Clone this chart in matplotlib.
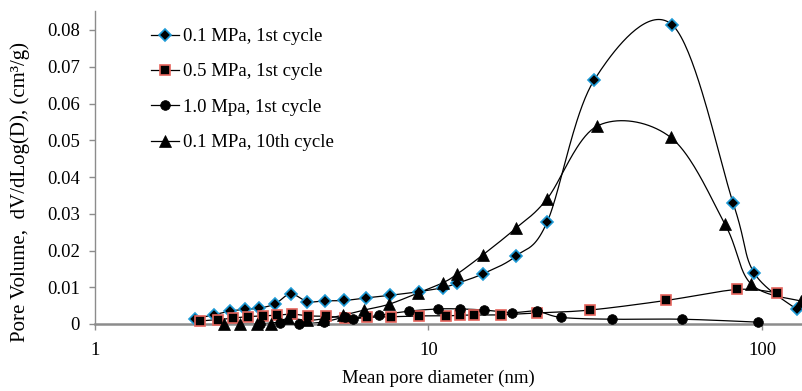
import numpy as np
import matplotlib
matplotlib.use("Agg")
import matplotlib.pyplot as plt
from matplotlib.lines import Line2D

plt.rcParams['font.family'] = ['Liberation Serif', 'DejaVu Serif']

# ---- data ----
d1 = [2.0, 2.27, 2.54, 2.82, 3.11, 3.47, 3.86, 4.33, 4.89, 5.59, 6.49, 7.66,
      9.37, 11.03, 12.2, 14.6, 18.3, 22.7, 31.4, 53.8, 82.0, 94.6, 127.0]
v1 = [0.0014, 0.0025, 0.0035, 0.0040, 0.0043, 0.0055, 0.0082, 0.0061, 0.0063,
      0.0064, 0.0071, 0.0078, 0.0088, 0.0099, 0.0111, 0.0137, 0.0185, 0.0278,
      0.0664, 0.0814, 0.0328, 0.0140, 0.0040]

d2 = [2.06, 2.34, 2.60, 2.87, 3.18, 3.52, 3.91, 4.36, 4.93, 5.62, 6.53, 7.72,
      9.37, 11.26, 12.43, 13.69, 16.46, 21.1, 30.5, 51.5, 84.3, 110.6]
v2 = [0.0008, 0.0012, 0.0016, 0.0020, 0.0022, 0.0024, 0.0027, 0.0022, 0.0021,
      0.0017, 0.0018, 0.0020, 0.0022, 0.0022, 0.0024, 0.0024, 0.0025, 0.0030,
      0.0038, 0.0064, 0.0094, 0.0085]

d3 = [3.12, 3.59, 4.10, 4.87, 5.62, 5.95, 7.12, 8.76, 10.7, 12.43, 14.67,
      17.8, 21.1, 24.97, 35.6, 57.7, 97.5]
v3 = [0.0000, 0.0004, 0.0000, 0.0006, 0.0019, 0.0014, 0.0024, 0.0035, 0.0041,
      0.0041, 0.0038, 0.0031, 0.0035, 0.0018, 0.0013, 0.0013, 0.0005]

d4 = [2.44, 2.72, 3.05, 3.36, 3.80, 4.31, 4.83, 5.55, 6.41, 7.63, 9.32, 11.03,
      12.15, 14.6, 18.3, 22.7, 32.1, 53.2, 77.4, 92.7, 131.0]
v4 = [0.0000, 0.0000, 0.0000, 0.0000, 0.0015, 0.0010, 0.0014, 0.0024, 0.0038,
      0.0054, 0.0085, 0.0112, 0.0135, 0.0189, 0.0261, 0.0341, 0.0539, 0.0508,
      0.0272, 0.0109, 0.0062]

labels = ['0.1 MPa, 1st cycle', '0.5 MPa, 1st cycle', '1.0 Mpa, 1st cycle',
          '0.1 MPa, 10th cycle']
xticks = [1, 10, 100]
xticklabels = ['1', '10', '100']
yticks = [0, 0.01, 0.02, 0.03, 0.04, 0.05, 0.06, 0.07, 0.08]
yticklabels = ['0', '0.01', '0.02', '0.03', '0.04', '0.05', '0.06', '0.07', '0.08']

# ---- figure ----
W, H = 803, 391
fig = plt.figure(figsize=(W / 100, H / 100), dpi=100)
ax = fig.add_axes([95 / W, 67 / H, 708 / W, 313 / H])
ax.set_xscale('log')
ax.set_xlim(1, 10 ** (708 / 333.5))
ax.set_ylim(0, 313 / 3675)

for s in ['top', 'right']:
    ax.spines[s].set_visible(False)
ax.spines['left'].set_color('#8c8c8c')
ax.spines['left'].set_linewidth(1.0)
ax.spines['bottom'].set_color('#8c8c8c')
ax.spines['bottom'].set_linewidth(1.8)
ax.set_xticks(xticks)
ax.set_xticklabels(xticklabels)
ax.xaxis.set_minor_locator(matplotlib.ticker.NullLocator())
ax.set_yticks(yticks)
ax.set_yticklabels(yticklabels)
ax.tick_params(axis='both', colors='#8c8c8c', labelcolor='black', labelsize=13.5,
               length=4, width=1)
ax.tick_params(axis='x', pad=9)
ax.tick_params(axis='y', pad=7)


def smooth(x, y, n=40):
    pts = ax.transData.transform(np.column_stack([x, y]))
    out = [pts[0]]
    m = len(pts)
    for i in range(m - 1):
        p0 = pts[i - 1] if i > 0 else pts[i]
        p1 = pts[i]
        p2 = pts[i + 1]
        p3 = pts[i + 2] if i + 2 < m else pts[i + 1]
        c1 = p1 + (p2 - p0) / 6.0
        c2 = p2 - (p3 - p1) / 6.0
        t = np.linspace(0, 1, n)[1:, None]
        seg = ((1 - t) ** 3) * p1 + 3 * ((1 - t) ** 2) * t * c1 + \
              3 * (1 - t) * t ** 2 * c2 + t ** 3 * p2
        out.extend(seg)
    out = np.array(out)
    back = ax.transData.inverted().transform(out)
    return back[:, 0], back[:, 1]


styles = [
    dict(marker='D', ms=6.0, mfc='black', mec='#1d9ad6', mew=1.2),
    dict(marker='s', ms=6.5, mfc='black', mec='#e5645c', mew=1.2),
    dict(marker='o', ms=7.0, mfc='black', mec='black', mew=0.5),
    dict(marker='^', ms=8.0, mfc='black', mec='black', mew=0.5),
]
series = [(d1, v1), (d2, v2), (d3, v3), (d4, v4)]
for (dx, vy), st in zip(series, styles):
    sx, sy = smooth(dx, vy)
    ax.plot(sx, sy, color='black', lw=0.9, clip_on=False, zorder=2)
for (dx, vy), st in zip(series, styles):
    ax.plot(dx, vy, ls='none', clip_on=False, zorder=3, **st)

handles = [Line2D([], [], color='black', lw=0.9, **st) for st in styles]
fig.legend(handles, labels, loc='upper left',
           bbox_to_anchor=(151 / W, (H - 28) / H), frameon=False,
           fontsize=13.5, handlelength=1.5, handletextpad=0.2,
           labelspacing=0.97, borderpad=0, borderaxespad=0)

ax.set_xlabel('Mean pore diameter (nm)', fontsize=13.5)
ax.xaxis.set_label_coords(0.485, -0.145)
fig.text(20 / W, 1 - 192 / H, 'Pore Volume,  dV/dLog(D), (cm³/g)',
         rotation=90, ha='center', va='center', fontsize=15)

fig.savefig('out.png', dpi=100)
